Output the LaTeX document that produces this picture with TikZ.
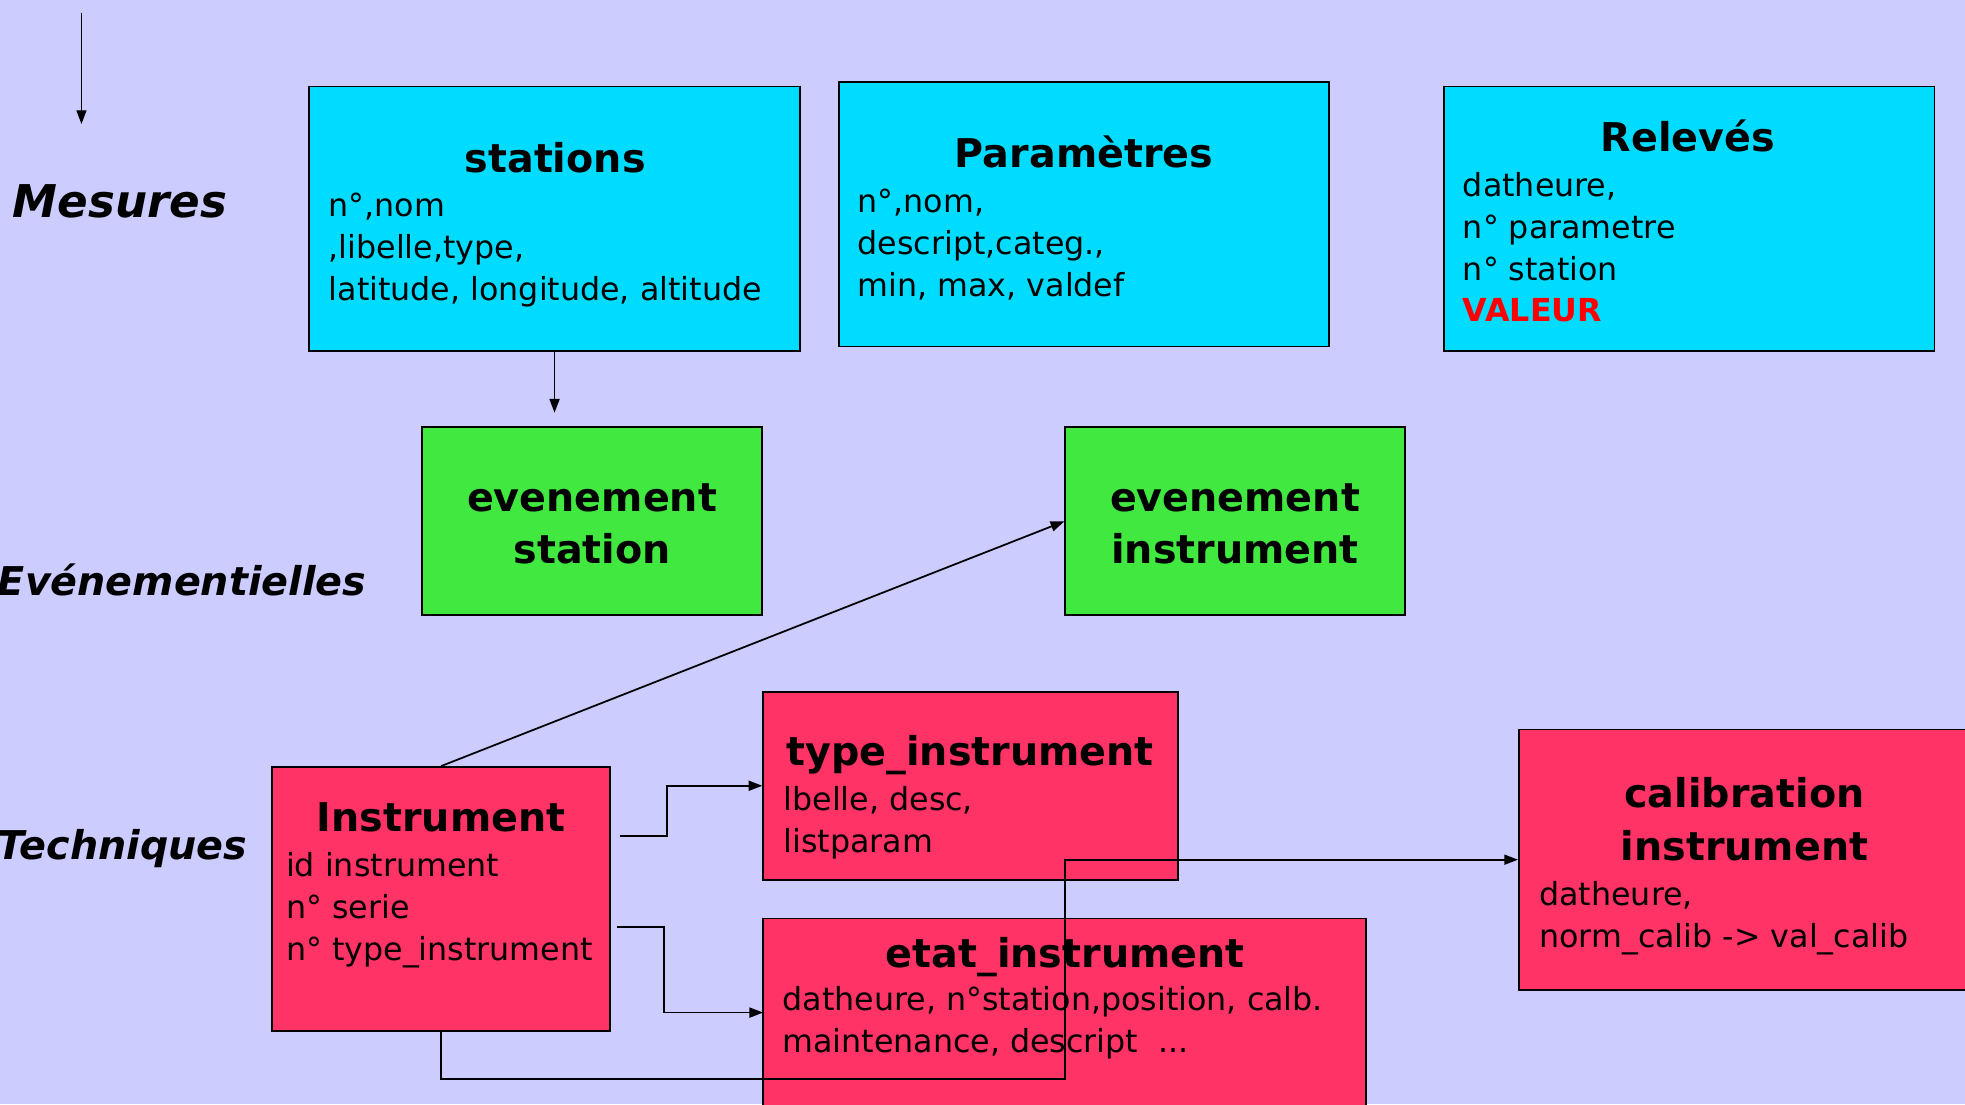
\documentclass[tikz,border=0pt]{standalone}
\usepackage{fontspec}
\setmainfont{DejaVu Sans}
\usetikzlibrary{arrows.meta}
\definecolor{fond}{HTML}{CCCCFF}
\definecolor{bleubox}{HTML}{00DCFF}
\definecolor{vertbox}{HTML}{40E840}
\definecolor{rougebox}{HTML}{FF3366}

\begin{document}
\begin{tikzpicture}
		[x=0.02cm, y=-0.02cm, >={Triangle[length=2.2mm,width=1.6mm]},
		table/.style={draw, line width=0.8pt, inner sep=0pt},
		mesure/.style={table, fill=bleubox, minimum width=7.83cm, minimum height=4.22cm},
		evenement/.style={table, fill=vertbox, minimum width=5.42cm, minimum height=3cm,
			font=\fontsize{18}{24}\selectfont\bfseries, align=center},
		technique/.style={table, fill=rougebox},
		titre/.style={font=\fontsize{18}{24}\selectfont\bfseries, inner sep=0pt, align=center},
		champs/.style={font=\fontsize{14.4}{19}\selectfont, inner sep=0pt, align=left, anchor=north west},
		couche/.style={font=\fontsize{18}{22}\selectfont\bfseries\itshape, inner sep=0pt, anchor=mid west},
		lien/.style={->, line width=0.8pt}]
		% background and size of the page
		\useasboundingbox (0,0) rectangle (1568,881);
		\clip (0,0) rectangle (1568,881);
		\fill[fond] (0,0) rectangle (1568,881);

		% draw the layer names
		\coordinate (haut) at (65,10);
		\coordinate (bas) at (65,99);
		\draw [lien, line width=0.6pt] (haut) -- (bas);
		\node [couche, font=\fontsize{20.5}{24}\selectfont\bfseries\itshape] (lmesures) at (10,169) {Mesures};
		\node [couche] (levenements) at (-2,470) {Evénementielles};
		\node [couche] (ltechniques) at (-2,681) {Techniques};

		% draw the measure tables
		\node [mesure] (stations) at (442.5,174.5) {};
		\node [titre, anchor=mid] (tstations) at (443,133) {stations};
		\node [champs] (fstations) at (262,149) {\strut n°,nom\\,libelle,type,\\latitude, longitude, altitude};

		\node [mesure] (parametres) at (865,171) {};
		\node [titre, anchor=mid] (tparametres) at (865,129) {Paramètres};
		\node [champs] (fparametres) at (684,146) {\strut n°,nom,\\descript,categ.,\\min, max, valdef};

		\node [mesure] (releves) at (1348,174.5) {};
		\node [titre, anchor=mid] (treleves) at (1347,116) {Relevés};
		\node [champs] (freleves) at (1167,133) {\strut datheure,\\n° parametre\\n° station\\\textcolor{red}{\bfseries VALEUR}};

		% draw the event tables
		\node [evenement] (evstation) at (472.5,416) {};
		\node [titre] (tevstation) at (472.5,418) {evenement\\station};
		\node [evenement] (evinstrument) at (985.5,416) {};
		\node [titre] (tevinstrument) at (985.5,418) {evenement\\instrument};

		% draw the technical tables
		\node [technique, minimum width=6.62cm, minimum height=3cm] (typeinstrument) at (774.5,627) {};
		\node [titre, anchor=mid] (ttypeinstrument) at (774,606) {type\_instrument};
		\node [champs] (ftypeinstrument) at (625,623) {\strut lbelle, desc,\\listparam};

		\node [technique, minimum width=5.4cm, minimum height=4.22cm] (instrument) at (352,717.5) {};
		\node [titre, anchor=mid] (tinstrument) at (352,659) {Instrument};
		\node [champs] (finstrument) at (228,676) {\strut id instrument\\n° serie\\n° type\_instrument};

		\node [technique, minimum width=7.2cm, minimum height=4.16cm] (calibration) at (1392,686) {};
		\node [titre] (tcalibration) at (1392,654) {calibration\\instrument};
		\node [champs] (fcalibration) at (1228,699) {\strut datheure,\\norm\_calib -> val\_calib};

		\node [technique, minimum width=9.62cm, minimum height=4.2cm] (etatinstrument) at (849.5,838) {};
		\node [titre, anchor=mid] (tetatinstrument) at (850,767) {etat\_instrument};
		\node [champs] (fetatinstrument) at (624,783) {\strut datheure, n°station,position, calb.\\maintenance, descript\ \ ...};

		% draw the links
		\draw [lien, shorten >=0.22cm] (stations.south) -- (stations.south |- evstation.north);
		\draw [lien] (instrument.north) -- (evinstrument.west);
		\coordinate (instrA) at (495,667);
		\draw [lien] (instrA) -- ++(37,0) |- (typeinstrument.west);
		\coordinate (instrB) at (492,740);
		\coordinate (etatB) at (609,808);
		\draw [lien] (instrB) -- ++(38,0) |- (etatB);
		\coordinate (coude) at (850,861);
		\draw [lien] (instrument.south) |- (coude) |- (calibration.west);
	\end{tikzpicture}
\end{document}
